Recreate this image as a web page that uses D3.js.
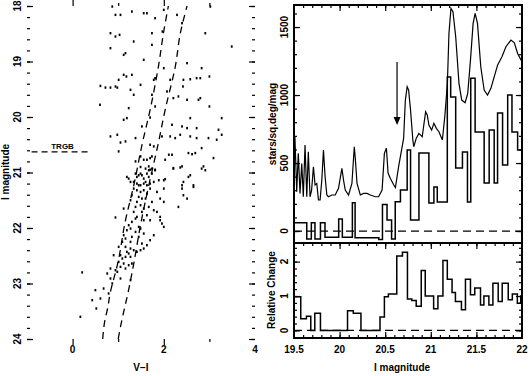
<html>
<head>
<meta charset="utf-8">
<script src="https://cdnjs.cloudflare.com/ajax/libs/d3/7.8.5/d3.min.js"></script>
<style>
body { margin: 0; background: #fff; }
svg { background: #fff; }
text { font-family: "Liberation Sans", Arial, sans-serif; font-weight: bold; font-size: 10px; fill: #000; }
.tick line { stroke: #000; stroke-width: 1.2; }
</style>
</head>
<body>
<script>
// colour-magnitude diagram: [V-I, I]
var cmdStars = [
  [0.87,18.01],[0.94,18.16],[1.05,18.16],[1.30,18.10],[1.56,18.13],[1.63,18.13],[1.81,18.22],[2.00,18.07],
  [2.29,18.16],[2.40,18.31],[3.02,18.01],[0.83,18.49],[0.94,18.55],[1.03,18.52],[0.83,18.76],[1.34,18.64],
  [1.74,18.49],[1.97,18.46],[2.91,18.49],[3.49,18.73],[1.74,18.70],[1.12,18.88],[1.16,18.85],[1.56,18.97],
  [2.00,19.12],[2.51,19.03],[2.83,19.12],[1.12,19.24],[1.18,19.27],[1.30,19.24],[1.01,19.33],[0.94,19.45],
  [0.61,19.44],[0.72,19.47],[0.83,19.47],[0.98,19.47],[1.27,19.51],[1.49,19.42],[1.78,19.33],[1.81,19.30],
  [2.14,19.33],[2.43,19.33],[2.58,19.32],[2.72,19.30],[2.80,19.30],[3.00,19.27],[2.42,19.45],[1.34,19.60],
  [1.74,19.60],[2.07,19.54],[2.21,19.66],[2.32,19.63],[2.51,19.69],[2.76,19.69],[2.80,19.66],[3.00,19.81],
  [0.60,19.78],[1.23,19.84],[1.81,19.81],[1.19,20.02],[1.70,20.01],[2.58,20.02],[3.27,20.02],[1.12,20.05],
  [1.52,20.17],[2.18,20.14],[2.40,20.17],[2.51,20.20],[2.72,20.20],[3.20,20.23],[0.83,20.35],[0.98,20.32],
  [1.05,20.46],[1.16,20.44],[1.38,20.38],[1.70,20.50],[1.78,20.53],[1.96,20.35],[2.14,20.35],[2.25,20.38],
  [2.36,20.32],[2.58,20.35],[2.72,20.38],[2.98,20.38],[3.16,20.41],[3.27,20.32],[1.01,20.62],[2.54,20.65],
  [2.62,20.67],[2.69,20.65],[2.83,20.56],[1.38,20.80],[1.49,20.71],[1.56,20.77],[1.63,20.77],[1.70,20.74],
  [1.74,20.71],[2.11,20.68],[2.18,20.68],[2.03,20.77],[1.67,20.89],[1.70,20.95],[1.81,20.95],[1.19,21.08],
  [1.41,21.08],[1.49,21.02],[1.63,21.02],[1.74,21.02],[2.21,20.92],[2.40,20.89],[2.87,20.89],[2.58,21.05],
  [3.09,20.74],[1.45,21.23],[1.56,21.20],[1.63,21.23],[1.78,21.17],[1.34,21.17],[2.40,21.23],[2.65,21.26],
  [2.00,21.14],
  [1.49,20.90],[1.60,20.93],[1.67,20.96],[1.74,20.93],[1.81,20.96],[2.21,20.93],[2.36,20.91],[2.83,20.93],
  [2.91,20.96],[1.38,21.02],[1.45,21.05],[1.52,21.05],[1.56,21.11],[1.67,21.08],[1.23,21.11],[1.27,21.17],
  [1.41,21.20],[1.49,21.23],[1.60,21.17],[1.70,21.20],[1.89,21.14],[2.03,21.12],[2.43,21.17],[2.54,21.08],
  [2.65,21.23],[2.40,21.29],[1.34,21.29],[1.41,21.32],[1.49,21.35],[1.56,21.32],[1.63,21.38],[1.70,21.29],
  [1.85,21.35],[2.00,21.29],[1.30,21.41],[1.45,21.44],[1.52,21.47],[1.60,21.47],[1.41,21.53],[1.27,21.50],
  [1.74,21.53],[1.92,21.47],[2.00,21.53],[2.51,21.47],[2.43,21.41],[2.32,21.62],[1.12,21.65],[1.38,21.62],
  [1.49,21.59],[1.56,21.65],[1.67,21.62],[1.34,21.71],[1.52,21.71],[1.63,21.77],[1.78,21.68],[1.85,21.71],
  [1.92,21.80],[0.94,21.81],[1.38,21.83],[1.41,21.80],[1.56,21.86],[1.30,21.89],[1.23,21.95],[1.45,21.98],
  [1.70,21.86],[1.92,21.86],[1.96,21.92],[2.00,21.98],[1.19,22.04],[1.27,22.01],[1.49,22.01],[1.38,22.07],
  [1.12,22.13],[1.16,22.19],[1.30,22.16],[1.45,22.16],[1.56,22.10],[1.78,22.13],[1.70,22.22],[1.09,22.25],
  [1.27,22.25],[1.52,22.28],[1.63,22.31],[1.01,22.34],[1.16,22.34],[1.27,22.37],[1.34,22.40],[1.19,22.43],
  [1.23,22.46],[1.41,22.43],[1.49,22.40],[1.56,22.37],[0.90,22.49],[1.05,22.49],[1.09,22.55],[1.16,22.52],
  [1.27,22.52],[1.01,22.61],[1.12,22.64],[1.23,22.67],[1.30,22.64],[1.05,22.70],[0.83,22.73],[0.94,22.76],
  [1.16,22.73],[0.76,22.82],[0.98,22.79],[1.05,22.91],[1.27,22.94],[0.21,22.80],[0.83,22.91],[0.87,23.00],
  [0.68,23.09],[0.79,23.18],[0.50,23.12],[0.43,23.30],[0.61,23.27],[0.52,23.45],[0.17,23.60]
];

// dashed fiducial sequences in the CMD: [V-I, I]
var blueEdge = [[0.66,24.0],[0.70,23.7],[0.77,23.44],[0.83,23.15],[1.0,22.6],[1.15,21.9],[1.35,21.2],[1.53,20.47],[1.70,19.87],[1.88,19.1],[1.99,18.5],[2.10,18.0]];
var redEdge = [[1.00,24.0],[1.07,23.7],[1.14,23.44],[1.22,23.15],[1.35,22.6],[1.50,21.9],[1.68,21.2],[1.88,20.47],[2.03,19.87],[2.25,19.1],[2.36,18.5],[2.51,18.0]];
var trgb = 20.63;

// smoothed luminosity function (stars/sq.deg/mag)
var lfMag = [19.51,19.53,19.547,19.566,19.585,19.602,19.621,19.64,19.657,19.676,19.693,19.713,19.731,19.75,19.768,
  19.786,19.805,19.823,19.841,19.86,19.878,19.915,19.952,19.988,20.025,20.043,20.062,20.098,20.135,20.161,20.172,
  20.191,20.227,20.263,20.301,20.337,20.392,20.428,20.466,20.491,20.513,20.532,20.557,20.594,20.612,20.647,20.702,
  20.721,20.741,20.757,20.778,20.803,20.813,20.84,20.869,20.906,20.943,20.961,20.979,21.009,21.034,21.061,21.089,
  21.127,21.155,21.182,21.199,21.221,21.243,21.273,21.309,21.339,21.376,21.405,21.435,21.464,21.486,21.512,21.548,
  21.585,21.622,21.659,21.695,21.732,21.78,21.824,21.879,21.916,21.952,22.0];
var lfVal = [693,289,571,277,497,252,632,252,583,252,300,473,338,350,228,228,375,595,399,265,252,265,265,314,461,
  375,301,265,350,620,534,350,265,277,277,265,252,252,301,571,608,424,387,338,320,473,681,963,1061,1036,889,669,620,
  681,718,693,877,853,779,742,792,755,730,669,853,1086,1453,1637,1612,1428,1086,963,943,1012,1257,1527,1600,1527,
  1208,1036,1000,1049,1134,1220,1281,1355,1404,1384,1306,1244];

// binned luminosity function (bin left edges and values)
var histEdges = [19.50,19.64,19.69,19.73,19.79,19.84,19.99,20.03,20.14,20.17,20.43,20.47,20.52,20.57,20.61,20.667,
  20.741,20.778,20.87,20.979,21.034,21.071,21.181,21.218,21.273,21.347,21.402,21.438,21.486,21.585,21.640,21.695,
  21.732,21.787,21.843,21.890,21.952];
var histVals = [61,-59,61,-59,61,-45,88,-45,208,-50,-62,196,81,-59,215,301,595,81,573,206,323,213,1132,985,463,581,
  213,1124,728,353,742,353,867,485,1000,728,595];

// relative change
var relEdges = [19.50,19.574,19.636,19.684,19.728,19.790,20.087,20.150,20.234,20.443,20.491,20.535,20.627,20.689,
  20.744,20.792,20.840,20.895,20.939,21.031,21.078,21.133,21.181,21.233,21.270,21.336,21.380,21.435,21.482,21.545,
  21.582,21.637,21.681,21.739,21.783,21.849,21.894,21.949,21.986];
var relVals = [0.98,0.34,0.41,0,0.50,0,0.57,0.50,0,0.39,0.98,1.06,2.16,2.27,0.91,0.87,0.70,1.74,1.0,0.63,1.0,2.03,
  1.49,1.10,0.84,0.60,1.49,1.04,1.23,0.74,1.0,0.74,1.37,0.84,1.37,0.89,1.06,0.79,1.0];

var cmdXLabels = [0, 2, 4];
var cmdYLabels = [18, 19, 20, 21, 22, 23, 24];
var magLabels = [19.5, 20, 20.5, 21, 21.5, 22];
var lfLabels = [0, 500, 1000, 1500];
var relLabels = [0, 1, 2];

var width = 530, height = 376;
var svg = d3.select('body').append('svg')
  .attr('width', width)
  .attr('height', height);

var xL = d3.scaleLinear().domain([-1, 4]).range([27, 255]);
var yL = d3.scaleLinear().domain([18, 24]).range([6, 339]);
var xR = d3.scaleLinear().domain([19.5, 22]).range([294, 522]);
var yU = d3.scaleLinear().domain([-88, 1662]).range([243, 5]);
var yB = d3.scaleLinear().domain([-0.22, 2.54]).range([338, 243]);

function steps(a, b, s) {
  return d3.range(Math.round((b - a) / s) + 1).map(function(i) { return +(a + i * s).toFixed(3); });
}

function addTicks(axis, t, vals, len) {
  svg.append('g').attr('transform', t)
    .call(axis.tickValues(vals).tickSize(-len).tickSizeOuter(0).tickFormat(''))
    .call(function(s) { s.select('.domain').remove(); });
}

function frame(x, y, o) {
  var xr = x.range(), yr = y.range();
  if (o.top) {
    addTicks(d3.axisTop(x), 'translate(0,' + yr[1] + ')', o.xMinor, 3);
    addTicks(d3.axisTop(x), 'translate(0,' + yr[1] + ')', o.xMajor, 6);
  }
  if (o.bottom) {
    addTicks(d3.axisBottom(x), 'translate(0,' + yr[0] + ')', o.xMinor, 3);
    addTicks(d3.axisBottom(x), 'translate(0,' + yr[0] + ')', o.xMajor, 6);
  }
  addTicks(d3.axisLeft(y), 'translate(' + xr[0] + ',0)', o.yMinor, 3);
  addTicks(d3.axisLeft(y), 'translate(' + xr[0] + ',0)', o.yMajor, 6);
  addTicks(d3.axisRight(y), 'translate(' + xr[1] + ',0)', o.yMinor, 3);
  addTicks(d3.axisRight(y), 'translate(' + xr[1] + ',0)', o.yMajor, 6);
  svg.append('rect')
    .attr('x', xr[0]).attr('y', yr[1])
    .attr('width', xr[1] - xr[0]).attr('height', yr[0] - yr[1])
    .attr('fill', 'none').attr('stroke', '#000').attr('stroke-width', 2);
}

function vlabel(x, y, s) {
  svg.append('text')
    .attr('transform', 'translate(' + x + ',' + y + ') rotate(-90)')
    .attr('text-anchor', 'middle').attr('dy', '0.35em').text(s);
}
function hlabel(x, y, s) {
  svg.append('text').attr('x', x).attr('y', y)
    .attr('text-anchor', 'middle').attr('dy', '0.35em').text(s);
}

// ---- left: CMD
svg.append('g').selectAll('rect').data(cmdStars).enter().append('rect')
  .attr('x', function(d) { return xL(d[0]) - 0.9; })
  .attr('y', function(d) { return yL(d[1]) - 1.2; })
  .attr('width', 1.8).attr('height', 2.4).attr('fill', '#000');

var cmdLine = d3.line().x(function(d) { return xL(d[0]); }).y(function(d) { return yL(d[1]); }).curve(d3.curveCatmullRom);
[blueEdge, redEdge].forEach(function(seq) {
  svg.append('path').attr('d', cmdLine(seq))
    .attr('fill', 'none').attr('stroke', '#000').attr('stroke-width', 1.3).attr('stroke-dasharray', '7,5');
});

svg.append('line')
  .attr('x1', xL(-0.9)).attr('x2', xL(0.35)).attr('y1', yL(trgb)).attr('y2', yL(trgb))
  .attr('stroke', '#000').attr('stroke-width', 1.3).attr('stroke-dasharray', '6,4');
svg.append('text').attr('x', xL(-0.22)).attr('y', yL(trgb) - 3)
  .attr('text-anchor', 'middle').style('font-size', '8px').text('TRGB');

frame(xL, yL, {
  top: true, bottom: true,
  xMinor: [1, 3], xMajor: [0, 2],
  yMinor: steps(18, 24, 0.2), yMajor: steps(18, 24, 1)
});
cmdYLabels.forEach(function(v) { vlabel(17, yL(v), v); });
cmdXLabels.forEach(function(v) { hlabel(xL(v), 349, v); });
vlabel(5, 172, 'I magnitude');
hlabel(141, 367, 'V\u2212I');

// ---- right top: luminosity function
var lf = lfMag.map(function(m, i) { return [m, lfVal[i]]; });
svg.append('path')
  .attr('d', d3.line().x(function(d) { return xR(d[0]); }).y(function(d) { return yU(d[1]); })(lf))
  .attr('fill', 'none').attr('stroke', '#000').attr('stroke-width', 1.2);

var hist = histEdges.map(function(m, i) { return [m, histVals[i]]; });
hist.push([22, histVals[histVals.length - 1]]);
svg.append('path')
  .attr('d', d3.line().x(function(d) { return xR(d[0]); }).y(function(d) { return yU(d[1]); }).curve(d3.curveStepAfter)(hist))
  .attr('fill', 'none').attr('stroke', '#000').attr('stroke-width', 1.5);

svg.append('line')
  .attr('x1', xR(19.5)).attr('x2', xR(22)).attr('y1', yU(0)).attr('y2', yU(0))
  .attr('stroke', '#000').attr('stroke-width', 1.3).attr('stroke-dasharray', '8,5');

// arrow at the TRGB
svg.append('line')
  .attr('x1', xR(trgb)).attr('x2', xR(trgb)).attr('y1', yU(1243)).attr('y2', yU(830))
  .attr('stroke', '#000').attr('stroke-width', 1.2);
svg.append('path')
  .attr('d', 'M' + (xR(trgb) - 3.5) + ',' + (yU(779) - 8) + 'L' + (xR(trgb) + 3.5) + ',' + (yU(779) - 8) + 'L' + xR(trgb) + ',' + yU(779) + 'Z')
  .attr('fill', '#000');

frame(xR, yU, {
  top: true, bottom: false,
  xMinor: steps(19.6, 21.9, 0.1), xMajor: [20, 20.5, 21, 21.5],
  yMinor: steps(0, 1600, 100), yMajor: lfLabels
});
lfLabels.forEach(function(v) { vlabel(284, yU(v), v); });
vlabel(272, 124, 'stars/sq.deg/mag');

// ---- right bottom: relative change
var rel = relEdges.map(function(m, i) { return [m, relVals[i]]; });
rel.push([22, relVals[relVals.length - 1]]);
svg.append('path')
  .attr('d', d3.line().x(function(d) { return xR(d[0]); }).y(function(d) { return yB(d[1]); }).curve(d3.curveStepAfter)(rel))
  .attr('fill', 'none').attr('stroke', '#000').attr('stroke-width', 1.5);

svg.append('line')
  .attr('x1', xR(19.5)).attr('x2', xR(22)).attr('y1', yB(0)).attr('y2', yB(0))
  .attr('stroke', '#000').attr('stroke-width', 1.3).attr('stroke-dasharray', '8,5');

frame(xR, yB, {
  top: true, bottom: true,
  xMinor: steps(19.6, 21.9, 0.1), xMajor: [20, 20.5, 21, 21.5],
  yMinor: steps(0, 2.4, 0.2), yMajor: relLabels
});
relLabels.forEach(function(v) { vlabel(284, yB(v), v); });
magLabels.forEach(function(v) { hlabel(xR(v), 349, v); });
vlabel(271, 290, 'Relative Change');
hlabel(402, 367, 'I magnitude');
</script>
</body>
</html>
